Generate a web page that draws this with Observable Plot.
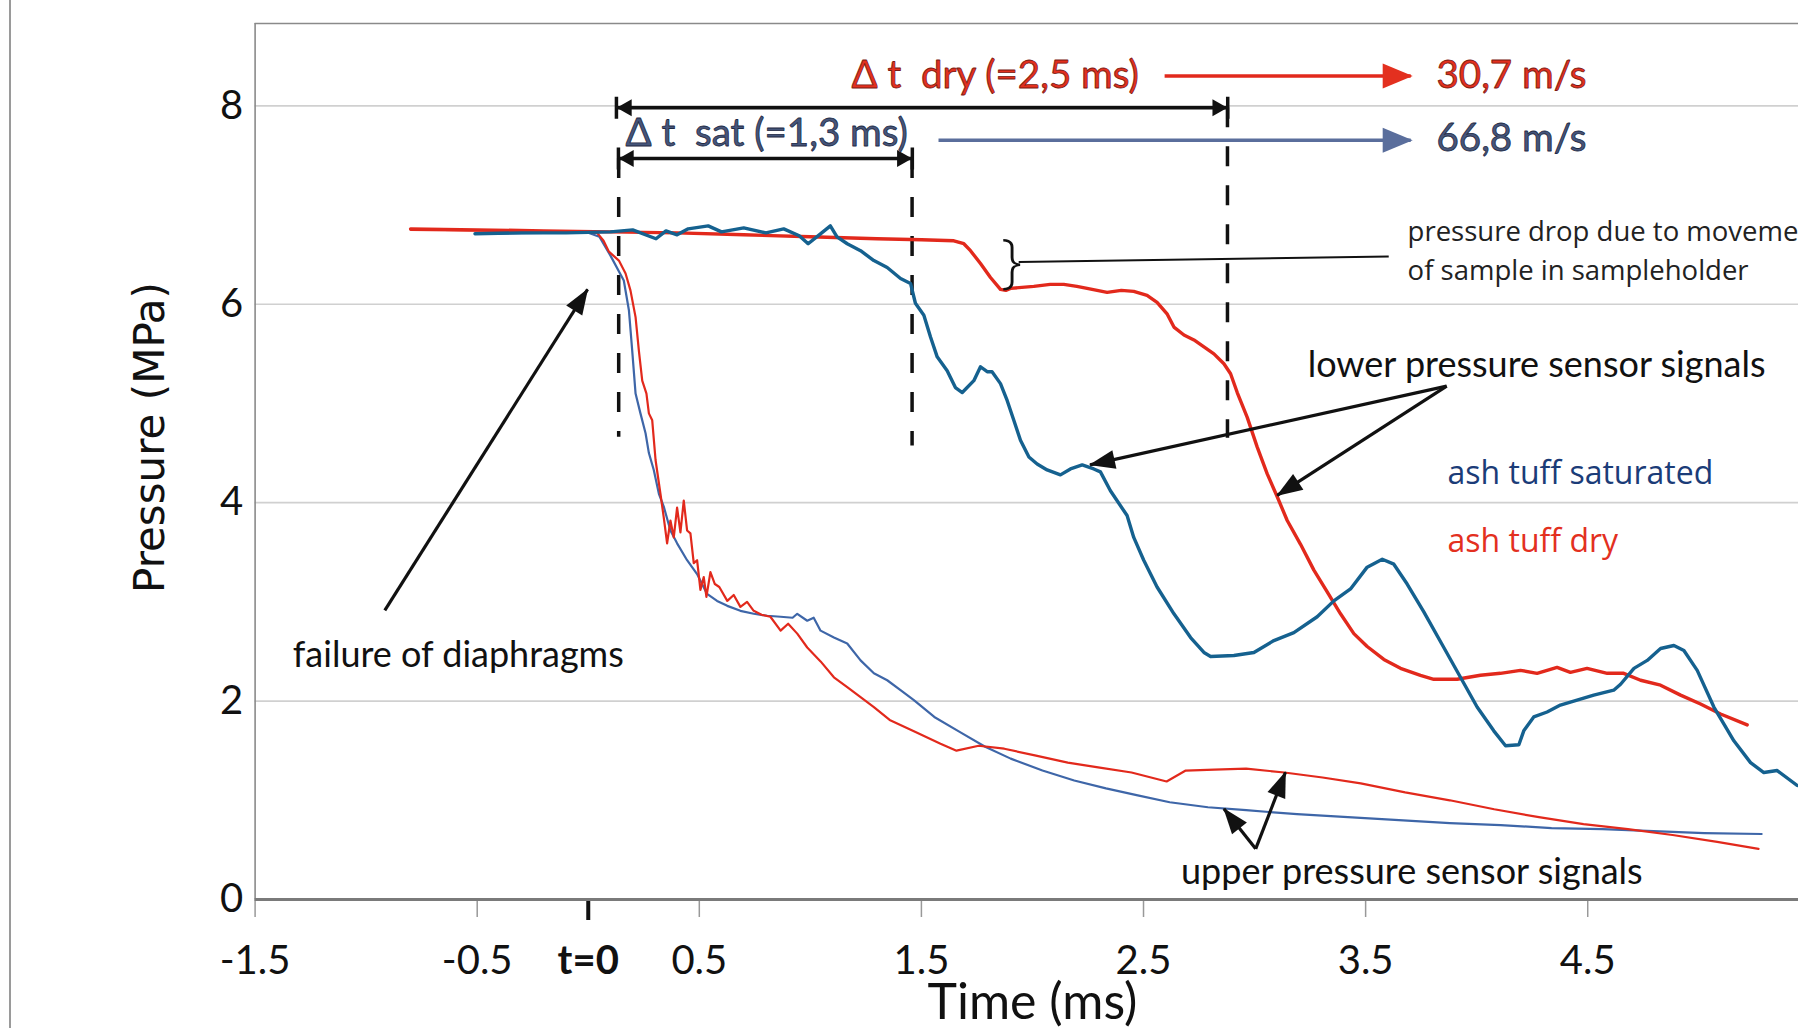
<!DOCTYPE html>
<html>
<head>
<meta charset="utf-8">
<script src="https://cdn.jsdelivr.net/npm/d3@7"></script>
<script src="https://cdn.jsdelivr.net/npm/@observablehq/plot@0.6"></script>
<style>
html, body { margin: 0; padding: 0; background: #fff; }
#wrap { position: relative; width: 1798px; height: 1028px; overflow: hidden; background: #fff; }
#edge { position: absolute; left: 9px; top: 0; width: 2px; height: 1028px; background: #9a9a9a; }
#wrap svg { position: absolute; left: 0; top: 0; }
svg text { white-space: pre; }
</style>
</head>
<body>
<div id="wrap"><div id="edge"></div></div>
<script>
// ---------- axis ticks ----------
const xTicks = [-1.5, -0.5, 0.5, 1.5, 2.5, 3.5, 4.5];
const yTicks = [0, 2, 4, 6, 8];
const yGrid = [2, 4, 6, 8];
const xMin = -1.5, xMax = 5.449, yMax = 8.83;

// ---------- series: [time (ms), pressure (MPa)] ----------
// lower sensor, ash tuff saturated
const satLower = [[-0.51,6.71],[-0.30,6.72],[-0.10,6.72],[0.10,6.73],[0.20,6.75],[0.305,6.66],[0.35,6.74],[0.40,6.70],[0.45,6.76],[0.54,6.79],[0.60,6.73],[0.70,6.77],[0.80,6.72],[0.88,6.76],[0.95,6.69],[0.99,6.61],[1.04,6.70],[1.09,6.79],[1.12,6.68],[1.166,6.61],[1.226,6.54],[1.286,6.44],[1.346,6.37],[1.406,6.26],[1.451,6.21],[1.473,6.01],[1.511,5.89],[1.541,5.67],[1.571,5.47],[1.616,5.33],[1.653,5.16],[1.684,5.11],[1.736,5.23],[1.766,5.37],[1.796,5.32],[1.818,5.32],[1.856,5.20],[1.886,5.03],[1.916,4.83],[1.946,4.63],[1.984,4.46],[2.021,4.39],[2.066,4.33],[2.126,4.28],[2.171,4.34],[2.224,4.38],[2.276,4.34],[2.306,4.31],[2.351,4.12],[2.426,3.87],[2.456,3.65],[2.501,3.42],[2.561,3.15],[2.637,2.88],[2.712,2.64],[2.772,2.49],[2.802,2.45],[2.907,2.46],[2.997,2.49],[3.087,2.61],[3.177,2.69],[3.282,2.85],[3.357,3.01],[3.432,3.13],[3.507,3.35],[3.575,3.43],[3.627,3.38],[3.687,3.18],[3.762,2.90],[3.852,2.54],[3.927,2.24],[4.002,1.94],[4.077,1.70],[4.130,1.55],[4.190,1.56],[4.212,1.70],[4.257,1.84],[4.317,1.89],[4.377,1.96],[4.452,2.01],[4.527,2.06],[4.617,2.11],[4.648,2.17],[4.708,2.33],[4.768,2.41],[4.828,2.53],[4.888,2.56],[4.933,2.51],[4.993,2.31],[5.068,1.94],[5.158,1.60],[5.233,1.38],[5.293,1.28],[5.353,1.30],[5.443,1.15]];
// lower sensor, ash tuff dry
const dryLower = [[-0.80,6.76],[-0.50,6.75],[-0.20,6.74],[0.10,6.73],[0.40,6.72],[0.70,6.70],[1.00,6.68],[1.30,6.66],[1.50,6.65],[1.646,6.64],[1.691,6.61],[1.721,6.54],[1.766,6.41],[1.811,6.27],[1.856,6.15],[1.88,6.14],[1.901,6.16],[2.006,6.18],[2.08,6.20],[2.141,6.20],[2.20,6.18],[2.246,6.16],[2.336,6.12],[2.40,6.14],[2.456,6.13],[2.516,6.09],[2.561,6.02],[2.607,5.90],[2.637,5.77],[2.682,5.69],[2.727,5.64],[2.772,5.57],[2.817,5.50],[2.862,5.40],[2.892,5.30],[2.922,5.11],[2.967,4.86],[3.012,4.56],[3.057,4.29],[3.102,4.06],[3.147,3.82],[3.207,3.58],[3.267,3.32],[3.327,3.10],[3.387,2.88],[3.447,2.68],[3.507,2.55],[3.582,2.42],[3.657,2.33],[3.747,2.26],[3.807,2.22],[3.912,2.22],[4.017,2.26],[4.107,2.28],[4.197,2.31],[4.272,2.28],[4.362,2.34],[4.422,2.29],[4.497,2.33],[4.588,2.28],[4.662,2.28],[4.738,2.21],[4.828,2.16],[4.918,2.06],[5.008,1.97],[5.098,1.87],[5.218,1.76]];
// upper sensor, ash tuff dry
const dryUpper = [[-0.80,6.75],[-0.40,6.74],[-0.10,6.73],[0.04,6.72],[0.069,6.64],[0.093,6.53],[0.138,6.44],[0.168,6.31],[0.19,6.14],[0.213,5.87],[0.228,5.53],[0.243,5.23],[0.262,5.10],[0.273,4.90],[0.288,4.83],[0.303,4.43],[0.325,4.09],[0.34,3.85],[0.355,3.59],[0.37,3.82],[0.385,3.65],[0.40,3.95],[0.415,3.70],[0.43,4.02],[0.445,3.72],[0.46,3.69],[0.475,3.39],[0.49,3.42],[0.505,3.12],[0.52,3.25],[0.532,3.05],[0.55,3.30],[0.57,3.18],[0.59,3.15],[0.626,3.01],[0.655,3.07],[0.685,2.95],[0.715,3.00],[0.745,2.91],[0.78,2.87],[0.82,2.85],[0.866,2.71],[0.90,2.78],[0.941,2.68],[0.986,2.54],[1.046,2.40],[1.106,2.24],[1.166,2.14],[1.226,2.04],[1.286,1.94],[1.357,1.81],[1.471,1.69],[1.586,1.57],[1.658,1.50],[1.758,1.55],[1.873,1.52],[2.016,1.45],[2.159,1.38],[2.303,1.33],[2.446,1.28],[2.604,1.19],[2.69,1.30],[2.819,1.31],[2.962,1.32],[3.134,1.28],[3.306,1.23],[3.478,1.17],[3.678,1.08],[3.879,1.00],[4.079,0.91],[4.280,0.83],[4.481,0.76],[4.681,0.71],[4.882,0.65],[5.083,0.58],[5.269,0.51]];
// upper sensor, ash tuff saturated
const satUpper = [[-0.51,6.71],[-0.20,6.72],[0.00,6.72],[0.05,6.68],[0.10,6.49],[0.16,6.24],[0.183,5.94],[0.198,5.53],[0.213,5.10],[0.235,4.90],[0.258,4.70],[0.273,4.50],[0.295,4.33],[0.318,4.09],[0.34,3.96],[0.37,3.72],[0.40,3.59],[0.445,3.42],[0.49,3.28],[0.535,3.08],[0.58,3.01],[0.626,2.96],[0.685,2.91],[0.745,2.88],[0.806,2.86],[0.866,2.85],[0.92,2.84],[0.941,2.88],[0.986,2.81],[1.015,2.84],[1.046,2.71],[1.106,2.64],[1.166,2.58],[1.226,2.41],[1.286,2.28],[1.346,2.21],[1.406,2.11],[1.466,2.01],[1.558,1.84],[1.672,1.69],[1.787,1.54],[1.902,1.42],[2.045,1.30],[2.188,1.20],[2.331,1.12],[2.474,1.05],[2.618,0.98],[2.790,0.93],[2.962,0.90],[3.191,0.86],[3.420,0.83],[3.650,0.80],[3.879,0.77],[4.108,0.75],[4.337,0.72],[4.567,0.71],[4.796,0.69],[5.025,0.67],[5.283,0.66]];

// ---------- annotations (data coordinates) ----------
const dashedMarks = [{t: 0.137, p1: 7.47, p2: 4.66}, {t: 1.458, p1: 7.47, p2: 4.57}, {t: 2.878, p1: 7.98, p2: 4.65}];
const spanArrows = [{t1: 0.128, t2: 2.878, p: 7.98}, {t1: 0.137, t2: 1.458, p: 7.47}];
const dryArrow = [{t1: 2.595, t2: 3.703, p: 8.30}];
const satArrow = [{t1: 1.577, t2: 3.703, p: 7.653}];
const pointers = [
  {t1: -0.916, p1: 2.914, t2: -0.003, p2: 6.15},
  {t1: 3.865, p1: 5.175, t2: 2.259, p2: 4.381},
  {t1: 3.865, p1: 5.175, t2: 3.102, p2: 4.073},
  {t1: 3.005, p1: 0.511, t2: 2.862, p2: 0.914},
  {t1: 3.005, p1: 0.511, t2: 3.139, p2: 1.283}
];
const leader = [{t1: 1.938, p1: 6.425, t2: 3.604, p2: 6.482}];
const brace = [{t: 1.905, p: 6.42, text: "}"}];
const dryTexts = [{t: 1.185, p: 8.30, text: "Δ t  dry (=2,5 ms)"}, {t: 3.819, p: 8.30, text: "30,7 m/s"}];
const satTexts = [{t: 0.168, p: 7.72, text: "Δ t  sat (=1,3 ms)"}, {t: 3.819, p: 7.665, text: "66,8 m/s"}];
const notes = [
  {t: -1.330, p: 2.463, text: "failure of diaphragms"},
  {t: 3.239, p: 5.388, text: "lower pressure sensor signals"},
  {t: 2.669, p: 0.27, text: "upper pressure sensor signals"}
];
const dropNote = [{t: 3.689, p: 6.728, text: "pressure drop due to movement"}, {t: 3.689, p: 6.335, text: "of sample in sampleholder"}];
const legendSat = [{t: 3.869, p: 4.295, text: "ash tuff saturated"}];
const legendDry = [{t: 3.869, p: 3.602, text: "ash tuff dry"}];

const RED = "#e2291c", BLUE = "#15618f", BLUE2 = "#3e66a8";
const CAL = "Lato, sans-serif";
const OPEN = "'Open Sans', sans-serif";

const chart = Plot.plot({
  width: 1798, height: 1028,
  marginLeft: 254.6, marginRight: 0, marginTop: 23, marginBottom: 129,
  x: {domain: [xMin, xMax]},
  y: {domain: [0, yMax]},
  style: {background: "transparent", color: "#111"},
  marks: [
    Plot.gridY(yGrid, {stroke: "#d0d0d0", strokeOpacity: 1, strokeWidth: 1.6}),
    Plot.ruleY([yMax], {stroke: "#8a8a8a", strokeWidth: 1.6}),
    Plot.ruleX([xMin], {stroke: "#8a8a8a", strokeWidth: 1.6}),
    Plot.axisX({ticks: xTicks, tickSize: 18, tickPadding: 28, tickFormat: d => String(d),
      stroke: "#999", strokeWidth: 1.5, fill: "#111", fontSize: 40, fontFamily: CAL}),
    Plot.axisX({ticks: [0], tickSize: 21, tickPadding: 25, tickFormat: () => "t=0",
      stroke: "#111", strokeWidth: 4, fill: "#111", fontSize: 40, fontWeight: "bold", fontFamily: CAL}),
    Plot.axisY({ticks: yTicks, tickSize: 0, tickPadding: 12, tickFormat: d => String(d),
      fill: "#111", fontSize: 40, fontFamily: CAL}),
    Plot.ruleY([0], {stroke: "#7a7a7a", strokeWidth: 3}),
    Plot.ruleX(dashedMarks, {x: "t", y1: "p1", y2: "p2", stroke: "#111", strokeWidth: 3.5, strokeDasharray: "20,19"}),
    Plot.line(satUpper, {stroke: BLUE2, strokeWidth: 2.2}),
    Plot.line(dryUpper, {stroke: RED, strokeWidth: 2.2}),
    Plot.line(dryLower, {stroke: RED, strokeWidth: 3.4}),
    Plot.line(satLower, {stroke: BLUE, strokeWidth: 3.4}),
    Plot.link(spanArrows, {x1: "t1", x2: "t2", y1: "p", y2: "p", stroke: "#111", strokeWidth: 3.5, ariaDescription: "span"}),
    Plot.link(dryArrow, {x1: "t1", x2: "t2", y1: "p", y2: "p", stroke: RED, strokeWidth: 3.5, ariaDescription: "dryarrow"}),
    Plot.link(satArrow, {x1: "t1", x2: "t2", y1: "p", y2: "p", stroke: "#5a6e9c", strokeWidth: 3.5, ariaDescription: "satarrow"}),
    Plot.link(pointers, {x1: "t1", y1: "p1", x2: "t2", y2: "p2", stroke: "#111", strokeWidth: 3.2, ariaDescription: "pointer"}),
    Plot.link(leader, {x1: "t1", y1: "p1", x2: "t2", y2: "p2", stroke: "#111", strokeWidth: 2}),
    Plot.text(brace, {x: "t", y: "p", text: "text", fontSize: 58, fontWeight: 300, fontFamily: OPEN, fill: "#111"}),
    Plot.text(dryTexts, {x: "t", y: "p", text: "text", textAnchor: "start", fontSize: 38.5, fontFamily: CAL,
      fill: "#e3301e", stroke: "#7a1a12", strokeWidth: 0.8, paintOrder: "normal"}),
    Plot.text(satTexts, {x: "t", y: "p", text: "text", textAnchor: "start", fontSize: 38.5, fontFamily: CAL,
      fill: "#46557a", stroke: "#1e2a44", strokeWidth: 0.8, paintOrder: "normal"}),
    Plot.text(notes, {x: "t", y: "p", text: "text", textAnchor: "start", fontSize: 36, fontFamily: CAL, fill: "#111"}),
    Plot.text(dropNote, {x: "t", y: "p", text: "text", textAnchor: "start", fontSize: 27.5, fontFamily: OPEN, fill: "#222"}),
    Plot.text(legendSat, {x: "t", y: "p", text: "text", textAnchor: "start", fontSize: 32, fontFamily: OPEN, fill: "#1b3c78"}),
    Plot.text(legendDry, {x: "t", y: "p", text: "text", textAnchor: "start", fontSize: 32, fontFamily: OPEN, fill: "#e3301f"}),
    Plot.text(["Pressure (MPa)"], {text: d => d, frameAnchor: "left", textAnchor: "middle", lineAnchor: "middle",
      dx: -105, dy: -24, rotate: -90, fontSize: 42, fontFamily: "'DejaVu Sans', sans-serif", fill: "#111"}),
    Plot.text(["Time (ms)"], {text: d => d, x: 2.0, frameAnchor: "bottom", textAnchor: "middle", lineAnchor: "middle",
      dy: 103, fontSize: 50, fontFamily: CAL, fill: "#111"})
  ]
});

document.getElementById("wrap").appendChild(chart);

// ---------- arrowhead markers ----------
const svg = d3.select(chart);
const defs = svg.insert("defs", ":first-child");
function marker(id, d, fill, orient) {
  defs.append("marker")
    .attr("id", id)
    .attr("markerUnits", "userSpaceOnUse")
    .attr("viewBox", "-40 -20 50 40")
    .attr("markerWidth", 50).attr("markerHeight", 40)
    .attr("refX", 0).attr("refY", 0)
    .attr("orient", orient)
    .append("path").attr("d", d).attr("fill", fill).attr("stroke", "none");
}
marker("mPointer", "M1,0 L-25,-9.5 L-25,9.5 Z", "#111", "auto");
marker("mSpan", "M0,0 L-15,-8.5 L-15,8.5 Z M-1.5,-11 L2,-11 L2,11 L-1.5,11 Z", "#111", "auto-start-reverse");
marker("mDry", "M2,0 L-28,-12.5 L-28,12.5 Z", "#e3301f", "auto");
marker("mSat", "M2,0 L-28,-12.5 L-28,12.5 Z", "#5a6e9c", "auto");
svg.selectAll('g[aria-description="pointer"] path').attr("marker-end", "url(#mPointer)");
svg.selectAll('g[aria-description="span"] path').attr("marker-end", "url(#mSpan)").attr("marker-start", "url(#mSpan)");
svg.selectAll('g[aria-description="dryarrow"] path').attr("marker-end", "url(#mDry)");
svg.selectAll('g[aria-description="satarrow"] path').attr("marker-end", "url(#mSat)");
</script>
</body>
</html>
